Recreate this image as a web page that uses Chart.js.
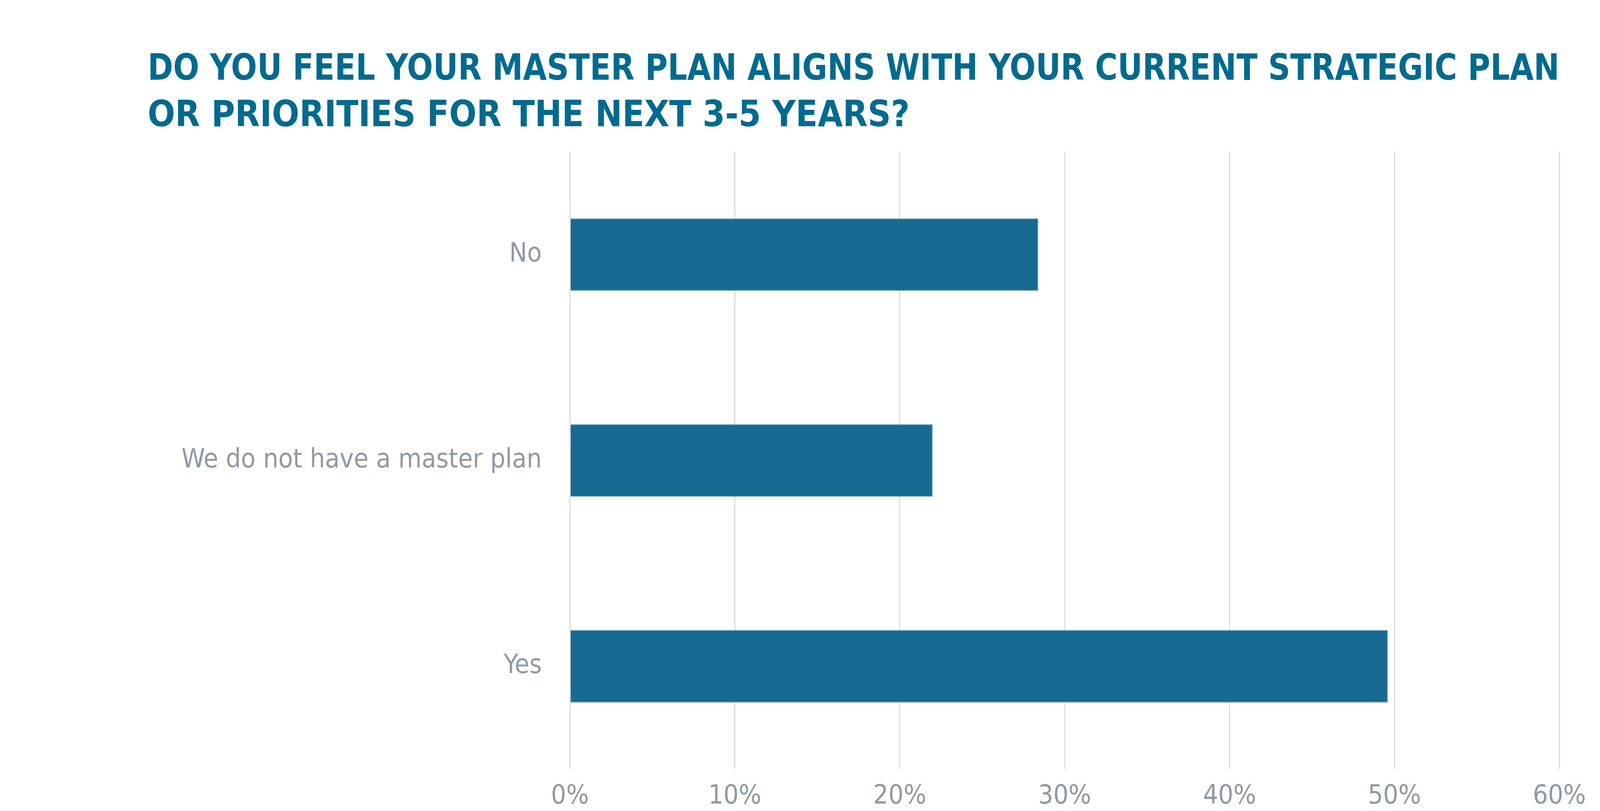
<!DOCTYPE html>
<html>
<head>
<meta charset="utf-8">
<script src="https://cdn.jsdelivr.net/npm/chart.js@4"></script>
<style>
    html, body { margin: 0; padding: 0; background: #ffffff; }
    #wrap { width: 4529px; height: 2075px; }
</style>
</head>
<body>
<div id="wrap"><canvas id="AlignChart"></canvas></div>
<script>
const TITLE_LINES = [
    'DO YOU FEEL YOUR MASTER PLAN ALIGNS WITH YOUR CURRENT STRATEGIC PLAN',
    'OR PRIORITIES FOR THE NEXT 3-5 YEARS?'
];
const CATEGORIES = ['No', 'We do not have a master plan', 'Yes'];
const RESPONSE_SHARE = [28.4, 22.0, 49.6];
const X_TICKS = [0, 10, 20, 30, 40, 50, 60];

const BAR_COLOR = '#176a91';
const TITLE_COLOR = '#006a8f';
const LABEL_COLOR = '#8e9aa4';
const GRID_COLOR = '#e3e3e3';

window.onload = function(){
    let ctx = document.getElementById('AlignChart').getContext('2d');

    window.AChart = new Chart(ctx, {
        type: 'bar',
        data: {
            labels: CATEGORIES,
            datasets: [{
                data: RESPONSE_SHARE,
                backgroundColor: BAR_COLOR,
                borderColor: '#7fa9c0',
                borderWidth: {top: 2, bottom: 2, left: 0, right: 2},
                borderSkipped: 'start',
                categoryPercentage: 1,
                barPercentage: 0.353,
            }]
        },
        options: {
            indexAxis: 'y',
            responsive: true,
            maintainAspectRatio: false,
            animation: false,
            devicePixelRatio: 1,
            layout: {
                padding: {left: 378, right: 537, top: 0, bottom: 0}
            },
            plugins: {
                legend: { display: false },
                tooltip: { enabled: false },
                title: {
                    display: true,
                    text: TITLE_LINES,
                    align: 'start',
                    color: TITLE_COLOR,
                    font: {
                        family: '"DejaVu Sans Condensed", "DejaVu Sans", sans-serif',
                        weight: 'bold',
                        size: 92,
                        lineHeight: 1.3
                    },
                    padding: {top: 120, bottom: 29}
                }
            },
            scales: {
                x: {
                    min: 0,
                    max: 60,
                    afterBuildTicks: function(axis){
                        axis.ticks = X_TICKS.map(v => ({value: v}));
                    },
                    afterFit: function(axis){
                        axis.height = 107;
                    },
                    grid: {
                        color: GRID_COLOR,
                        lineWidth: 4,
                        drawTicks: false
                    },
                    border: { display: false },
                    ticks: {
                        color: LABEL_COLOR,
                        padding: 30,
                        font: {
                            family: '"DejaVu Sans Condensed", "DejaVu Sans", sans-serif',
                            size: 68
                        },
                        callback: function(value){
                            return value + '%';
                        }
                    }
                },
                y: {
                    afterFit: function(axis){
                        axis.width = 1459 - 378;
                    },
                    grid: { display: false },
                    border: { display: false },
                    ticks: {
                        color: LABEL_COLOR,
                        padding: 64,
                        font: {
                            family: '"DejaVu Sans Condensed", "DejaVu Sans", sans-serif',
                            size: 68
                        }
                    }
                }
            }
        }
    });
};
</script>
</body>
</html>
